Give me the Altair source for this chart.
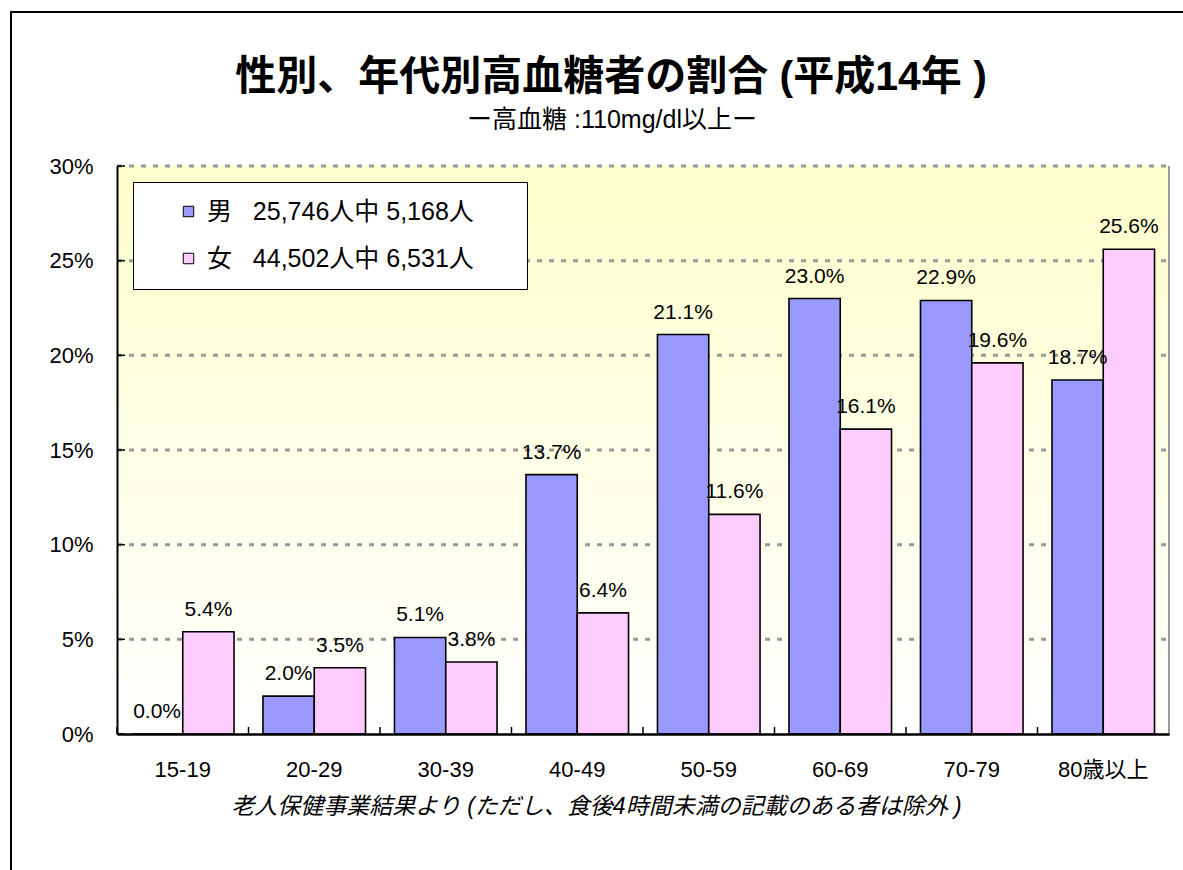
import altair as alt
import pandas as pd

categories = ["15-19", "20-29", "30-39", "40-49", "50-59", "60-69", "70-79", "80歳以上"]
male = [0.0, 2.0, 5.1, 13.7, 21.1, 23.0, 22.9, 18.7]
female = [5.4, 3.5, 3.8, 6.4, 11.6, 16.1, 19.6, 25.6]
series = ["男\u00a0\u00a0\u00a025,746人中 5,168人", "女\u00a0\u00a0\u00a044,502人中 6,531人"]
colors = ["#9999FF", "#FFCCFF"]
y_ticks = [0, 5, 10, 15, 20, 25, 30]

title_text = "性別、年代別高血糖者の割合 (平成14年 )"
subtitle_text = "ー高血糖 :110mg/dl以上ー"
footnote = "老人保健事業結果より (ただし、食後4時間未満の記載のある者は除外 )"

FONT = "Liberation Sans, Arial, Noto Sans CJK JP"
W, H = 1052, 568
PAD_IN, PAD_OUT = 0.22, 0.11

rows = []
for i, c in enumerate(categories):
    rows.append({"cat": c, "sex": series[0], "v": male[i]})
    rows.append({"cat": c, "sex": series[1], "v": female[i]})
df = pd.DataFrame(rows)
df["label"] = df["v"].map(lambda x: f"{x:.1f}%")
ticks_df = pd.DataFrame({"t": y_ticks})
cat_df = pd.DataFrame({"cat": categories})
one = pd.DataFrame({"a": [0]})
titles_df = pd.DataFrame({"txt": [title_text]})
sub_df = pd.DataFrame({"txt": [subtitle_text]})

x_scale = alt.Scale(domain=categories, paddingInner=PAD_IN, paddingOuter=PAD_OUT)
y_scale = alt.Scale(domain=[0, 30], nice=False)
step = W / (len(categories) - PAD_IN + 2 * PAD_OUT)

x_enc = alt.X("cat:N", scale=x_scale, sort=categories,
              axis=alt.Axis(title=footnote, labelAngle=0, labelFontSize=22, labelFont=FONT,
                            labelColor="black", labelPadding=25, ticks=False, domainColor="black",
                            domainWidth=2.5, grid=False, zindex=1,
                            titleFont=FONT, titleFontSize=23, titleFontStyle="italic",
                            titleFontWeight="normal", titleColor="black", titleX=479, titleY=72,
                            titleBaseline="middle", titleAlign="center"))
y_enc = alt.Y("v:Q", scale=y_scale,
              axis=alt.Axis(title=None, values=y_ticks, labelExpr="datum.value + '%'",
                            labelFontSize=22, labelFont=FONT, labelColor="black", labelPadding=24,
                            ticks=False, domainColor="black", domainWidth=2, grid=False, zindex=1))

frame = alt.Chart(one).mark_rect(fillOpacity=0, stroke="black", strokeWidth=2).encode(
    x=alt.value(-106), x2=alt.value(1200), y=alt.value(-154), y2=alt.value(900))

title_mark = alt.Chart(titles_df).mark_text(font=FONT, fontSize=41, fontWeight="bold",
                                            color="black", baseline="middle", align="center").encode(
    x=alt.value(494), y=alt.value(-88), text="txt:N")

sub_mark = alt.Chart(sub_df).mark_text(font=FONT, fontSize=25, color="black",
                                       baseline="middle", align="center").encode(
    x=alt.value(495), y=alt.value(-46), text="txt:N")

grad = alt.Chart(one).mark_rect(
    color=alt.LinearGradient(gradient="linear",
                             stops=[alt.GradientStop(color="#FFFFCC", offset=0),
                                    alt.GradientStop(color="#FFFFFF", offset=1)],
                             x1=0, x2=0, y1=0, y2=1)
).encode(x=alt.value(0), x2=alt.value(W), y=alt.value(0), y2=alt.value(H))

grid = alt.Chart(ticks_df).transform_filter("datum.t > 0").mark_rule(
    color="#999999", strokeWidth=3, strokeDash=[5, 7]).encode(
    y=alt.Y("t:Q", scale=y_scale), x=alt.value(0), x2=alt.value(W))

right_border = alt.Chart(one).mark_rule(color="#999999", strokeWidth=2).encode(
    x=alt.value(W), y=alt.value(0), y2=alt.value(H))

bars = alt.Chart(df).mark_bar(stroke="black", strokeWidth=1.6).encode(
    x=x_enc,
    xOffset=alt.XOffset("sex:N", sort=series, scale=alt.Scale(domain=series)),
    y=y_enc,
    color=alt.Color("sex:N", scale=alt.Scale(domain=series, range=colors), title=None,
                    legend=alt.Legend(orient="none", legendX=16, legendY=16,
                                      fillColor="white", strokeColor="black",
                                      padding=17, rowPadding=21, symbolType="square",
                                      symbolSize=110, symbolStrokeColor="black",
                                      symbolStrokeWidth=1, symbolOffset=26, labelOffset=6,
                                      labelFontSize=25, labelFont=FONT, labelColor="black",
                                      labelLimit=600,
                                      labelExpr="datum.label + '\u2800\u2800'")),
)

text = alt.Chart(df).mark_text(baseline="bottom", dy=-12, fontSize=21, font=FONT,
                               color="black").encode(
    x=alt.X("cat:N", scale=x_scale, sort=categories),
    xOffset=alt.XOffset("sex:N", sort=series, scale=alt.Scale(domain=series)),
    y=alt.Y("v:Q", scale=y_scale),
    text="label:N",
)

ytick_marks = alt.Chart(ticks_df).mark_rule(color="black", strokeWidth=1.5).encode(
    y=alt.Y("t:Q", scale=y_scale), x=alt.value(0), x2=alt.value(8))

xtick_marks = alt.Chart(cat_df).mark_rule(color="black", strokeWidth=1.5,
                                          xOffset=-step * PAD_IN / 2).encode(
    x=alt.X("cat:N", scale=x_scale, sort=categories, bandPosition=0),
    y=alt.value(H - 7), y2=alt.value(H))

chart = alt.layer(frame, title_mark, sub_mark, grad, grid, right_border, bars, text,
                  ytick_marks, xtick_marks).properties(
    width=W, height=H,
    autosize=alt.AutoSizeParams(type="none"),
    padding={"left": 117, "top": 166, "right": 14, "bottom": 136},
).configure_view(stroke="transparent").configure(background="white")

chart.save("out.html", embed_options={"renderer": "svg", "actions": False})
